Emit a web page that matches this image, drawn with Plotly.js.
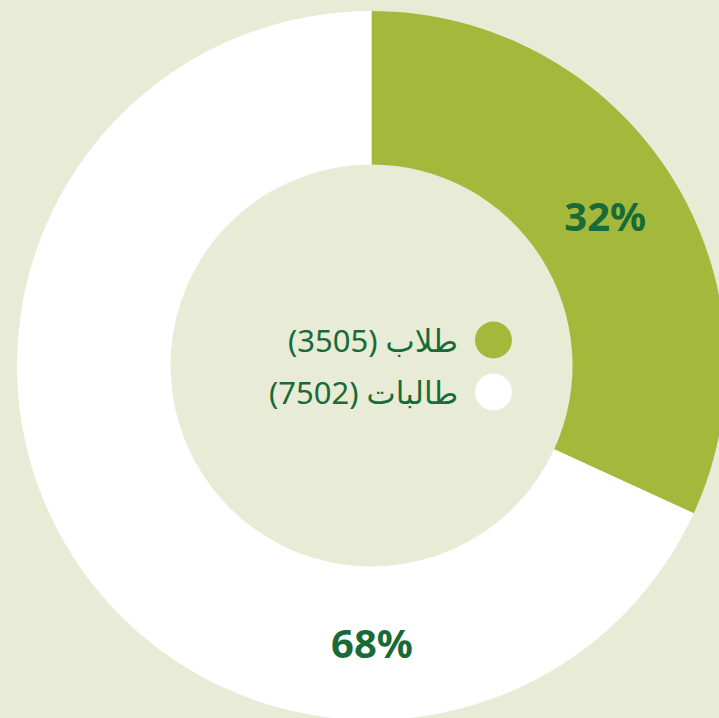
<!DOCTYPE html>
<html>
<head>
<meta charset="utf-8">
<script src="https://cdn.plot.ly/plotly-3.0.1.min.js"></script>
<style>
html,body{margin:0;padding:0;width:719px;height:718px;overflow:hidden;background:#E8EBD6;}
#chart{position:absolute;left:17px;top:11px;width:709px;height:709px;}
</style>
</head>
<body>
<div id="chart"></div>
<script>
const categories = ["طلاب", "طالبات"];
const values = [3505, 7502];
const colors = ["#A4B83B", "#FFFFFF"];

const textColor = "#186B38";
const total = values.reduce((a, b) => a + b, 0);
const pct = values.map(v => Math.round(v / total * 100) + "%");

const trace = {
  type: "pie",
  labels: categories,
  values: values,
  sort: false,
  direction: "clockwise",
  rotation: 0,
  hole: 0.567,
  marker: {colors: colors, line: {width: 0}},
  texttemplate: "%{percent:.0%}",
  textposition: ["inside", "none"],
  insidetextorientation: "horizontal",
  insidetextfont: {family: "Noto Sans, DejaVu Sans, sans-serif", size: 40, color: textColor, weight: 700},
  hoverinfo: "none",
  showlegend: false,
  domain: {x: [0, 1], y: [0, 1]}
};

const legendY = [0.536, 0.4626];
const annotations = categories.map((c, i) => ({
  xref: "paper", yref: "paper",
  x: 0.625, y: legendY[i],
  xanchor: "right", yanchor: "middle",
  text: "(" + values[i] + ") " + c,
  showarrow: false,
  font: {family: "Noto Sans, DejaVu Sans, sans-serif", size: 31, color: textColor}
}));
annotations.push({
  xref: "paper", yref: "paper",
  x: 0.5, y: 0.109,
  xanchor: "center", yanchor: "middle",
  text: pct[1],
  showarrow: false,
  font: {family: "Noto Sans, DejaVu Sans, sans-serif", size: 40, color: textColor, weight: 700}
});

const shapes = categories.map((c, i) => ({
  type: "circle",
  xref: "paper", yref: "paper",
  xsizemode: "pixel", ysizemode: "pixel",
  xanchor: 0.672, yanchor: legendY[i],
  x0: -18.5, x1: 18.5, y0: -18.5, y1: 18.5,
  fillcolor: colors[i],
  line: {width: 0}
}));

const layout = {
  width: 709, height: 709,
  margin: {l: 0, r: 0, t: 0, b: 0},
  paper_bgcolor: "rgba(0,0,0,0)",
  plot_bgcolor: "rgba(0,0,0,0)",
  showlegend: false,
  annotations: annotations,
  shapes: shapes
};

Plotly.newPlot("chart", [trace], layout, {displayModeBar: false, staticPlot: true});
</script>
</body>
</html>
